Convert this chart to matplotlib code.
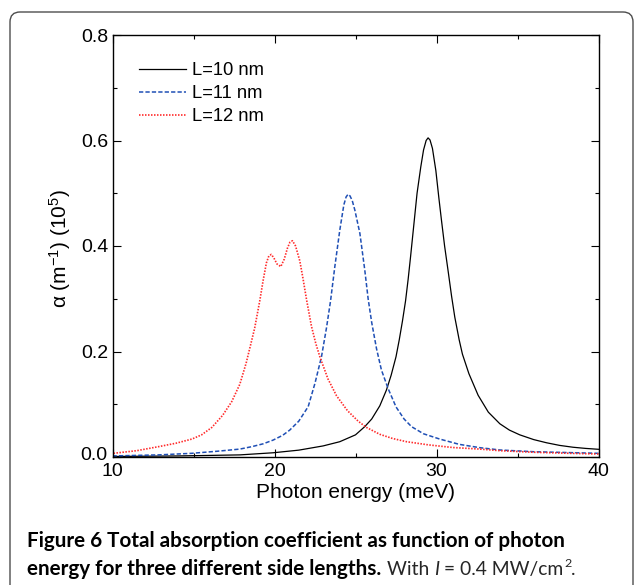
import matplotlib
matplotlib.use('Agg')
import matplotlib.pyplot as plt
from matplotlib.patches import FancyBboxPatch
from matplotlib.transforms import IdentityTransform, ScaledTranslation

# ---------------- data ----------------
energy_10 = [10.0, 12.0, 14.0, 16.0, 17.86, 19.91, 21.5, 23.0, 24.03, 25.0, 25.57, 26.0,
             26.5, 26.91, 27.2, 27.5, 27.7, 27.9, 28.09, 28.25, 28.4, 28.6, 28.8, 29.03,
             29.2, 29.36, 29.48, 29.6, 29.75, 29.96, 30.15, 30.31, 30.5, 30.72, 30.93, 31.13, 31.4,
             31.6, 32.0, 32.57, 33.2, 33.91, 34.5, 35.14, 36.0, 36.79, 37.6, 38.43, 39.2, 40.0]
alpha_10 = [0.001, 0.0015, 0.002, 0.003, 0.004, 0.008, 0.013, 0.021, 0.029, 0.042, 0.0575, 0.072,
            0.097, 0.127, 0.155, 0.19, 0.222, 0.258, 0.296, 0.337, 0.38, 0.44, 0.5, 0.55,
            0.582, 0.600, 0.605, 0.601, 0.585, 0.543, 0.49, 0.448, 0.4, 0.352, 0.305, 0.265, 0.222,
            0.195, 0.158, 0.117, 0.085, 0.063, 0.051, 0.042, 0.033, 0.027, 0.022, 0.0185, 0.0163, 0.0146]

energy_11 = [10.0, 12.84, 14.9, 16.5, 17.86, 18.6, 19.3, 19.91, 20.5, 20.94, 21.5, 22.08,
             22.5, 22.9, 23.21, 23.46, 23.72, 24.03, 24.28, 24.42, 24.54, 24.66, 24.8, 24.96, 25.27,
             25.57, 25.78, 26.0, 26.3, 26.6, 27.01, 27.5, 28.0, 28.46, 29.2, 30.2, 31.4,
             32.67, 33.91, 36.0, 38.0, 40.0]
alpha_11 = [0.002, 0.004, 0.007, 0.011, 0.015, 0.0196, 0.025, 0.032, 0.041, 0.051, 0.068, 0.0955,
            0.14, 0.19, 0.245, 0.296, 0.36, 0.43, 0.478, 0.493, 0.498, 0.495, 0.486, 0.468, 0.424,
            0.355, 0.3, 0.255, 0.205, 0.165, 0.13, 0.095, 0.072, 0.0575, 0.044, 0.034, 0.024,
            0.0177, 0.0133, 0.010, 0.0085, 0.007]

energy_12 = [10.06, 11.5, 12.84, 13.9, 14.9, 15.5, 16.13, 16.8, 17.36, 17.86, 18.25, 18.6,
             18.78, 19.09, 19.3, 19.5, 19.65, 19.8, 19.95, 20.15, 20.39, 20.6, 20.8, 20.95,
             21.11, 21.3, 21.56, 21.75, 21.98, 22.28, 22.55, 22.8, 23.3, 23.83, 24.5, 25.16,
             25.68, 26.5, 27.3, 28.15, 29.5, 31.0, 32.67, 33.91, 36.0, 38.0, 40.0]
alpha_12 = [0.007, 0.012, 0.0196, 0.026, 0.034, 0.042, 0.056, 0.079, 0.105, 0.138, 0.178, 0.222,
            0.245, 0.296, 0.335, 0.368, 0.381, 0.384, 0.378, 0.366, 0.361, 0.375, 0.396, 0.407,
            0.41, 0.4, 0.372, 0.34, 0.298, 0.248, 0.215, 0.19, 0.148, 0.116, 0.088, 0.068,
            0.056, 0.043, 0.035, 0.029, 0.023, 0.018, 0.015, 0.012, 0.009, 0.0072, 0.0057]

series_labels = ['L=10 nm', 'L=11 nm', 'L=12 nm']
x_major = [10, 20, 30, 40]
x_minor = [15, 25, 35]
y_major = [0.0, 0.2, 0.4, 0.6, 0.8]
y_major_labels = ['0.0', '0.2', '0.4', '0.6', '0.8']
y_minor = [0.1, 0.3, 0.5, 0.7]
x_label = 'Photon energy (meV)'
y_label = r'α (m$^{\mathsf{-1}}$) (10$^{\mathsf{5}}$)'
caption_bold_1 = 'Figure 6 Total absorption coefficient as function of photon'
caption_bold_2 = 'energy for three different side lengths.'

# ---------------- style ----------------
plt.rcParams['font.family'] = ['Liberation Sans', 'DejaVu Sans']
plt.rcParams['mathtext.fontset'] = 'custom'
plt.rcParams['mathtext.rm'] = 'Liberation Sans'
plt.rcParams['mathtext.sf'] = 'Liberation Sans'
plt.rcParams['mathtext.it'] = 'Liberation Sans:italic'
plt.rcParams['mathtext.bf'] = 'Liberation Sans:bold'

W, H = 635, 585
fig = plt.figure(figsize=(W / 100, H / 100), dpi=100)


def fx(px):
    return px / W


def fy(py):
    return 1 - py / H


# rounded frame around the figure panel (pixel coordinates, y from bottom)
frame = FancyBboxPatch((10, -40), 623, H - 12 + 40,
                       boxstyle='round,pad=0,rounding_size=10',
                       transform=IdentityTransform(), fill=False,
                       edgecolor='#4d4d4d', linewidth=1.0)
fig.add_artist(frame)

L, R, T, B = 112.5, 598.5, 35, 457
ax = fig.add_axes([fx(L), fy(B), (R - L) / W, (B - T) / H])

ax.plot(energy_10, alpha_10, color='black', lw=0.9, ls='-', label=series_labels[0])
ax.plot(energy_11, alpha_11, color='#1f4fb5', lw=1.1, ls=(0, (2.8, 1.4)), label=series_labels[1])
ax.plot(energy_12, alpha_12, color='#ff2a2a', lw=1.2, ls=(0, (0.9, 0.9)), label=series_labels[2])

ax.set_xlim(10, 40)
ax.set_ylim(0, 0.8)
ax.set_xticks(x_major)
ax.set_xticks(x_minor, minor=True)
ax.set_yticks(y_major)
ax.set_yticklabels(y_major_labels)
ax.set_yticks(y_minor, minor=True)
ax.tick_params(which='both', direction='in', top=True, right=True, width=0.8,
               labelsize=14, pad=3)
ax.tick_params(axis='x', which='major', pad=4.5)
ax.tick_params(which='major', length=5.5)
ax.tick_params(which='minor', length=3)
for s in ax.spines.values():
    s.set_linewidth(1.0)

# nudge the "0.0" label a little up so it does not collide with "10"
zero_lbl = ax.yaxis.get_major_ticks()[0].label1
zero_lbl.set_transform(zero_lbl.get_transform() +
                       ScaledTranslation(-1 / 72, 2.5 / 72, fig.dpi_scale_trans))

leg = ax.legend(loc='upper left', bbox_to_anchor=(0.0545, 0.936), frameon=False,
                fontsize=13.2, handlelength=2.57, handletextpad=0.31,
                labelspacing=0.33, borderpad=0, borderaxespad=0)

fig.text(fx((L + R) / 2), fy(492), x_label, ha='center', va='center', fontsize=15)
fig.text(fx(60), fy(248), y_label, ha='center', va='center', rotation=90, fontsize=15)

# ---------------- caption ----------------
cap_family = ['Lato', 'DejaVu Sans']
renderer = fig.canvas.get_renderer()


def width_px(t):
    return t.get_window_extent(renderer).width


t1 = fig.text(fx(27), fy(547), caption_bold_1, fontsize=13, fontweight='bold',
              family=cap_family, ha='left', va='baseline', color='black')
size = 13 * 539 / width_px(t1)
t1.set_fontsize(size)

t2 = fig.text(fx(27), fy(575), caption_bold_2, fontsize=size, fontweight='bold',
              family=cap_family, ha='left', va='baseline', color='black')
x0 = 27 + width_px(t2) + 0.28 * size * 100 / 72

# regular part of the caption, scaled to span the reference width
parts = [('With ', 'normal'), ('I', 'italic'), (' = 0.4 MW/cm', 'normal')]


def draw_regular(sz):
    arts = []
    x = x0
    for txt, style in parts:
        t = fig.text(fx(x), fy(575), txt, fontsize=sz, fontstyle=style,
                     family=cap_family, ha='left', va='baseline', color='#262626')
        arts.append(t)
        x += width_px(t)
    t = fig.text(fx(x + 0.5), fy(575 - sz * 100 / 72 * 0.42), '2', fontsize=sz * 0.65,
                 family=cap_family, ha='left', va='baseline', color='#262626')
    arts.append(t)
    x += width_px(t) + 0.5
    t = fig.text(fx(x), fy(575), '.', fontsize=sz, family=cap_family, ha='left',
                 va='baseline', color='#262626')
    arts.append(t)
    x += width_px(t)
    return arts, x


arts, xend = draw_regular(size)
scale = (575 - x0) / (xend - x0)
for a in arts:
    a.remove()
draw_regular(size * scale)

fig.savefig('out.png', dpi=100)
